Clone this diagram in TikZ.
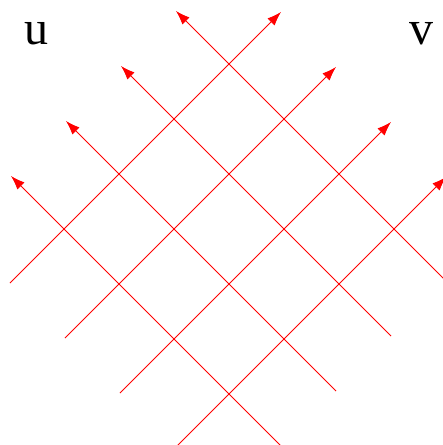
\documentclass[tikz,border=0pt]{standalone}
\usepackage{fontspec}
\setmainfont{Liberation Serif}
\usetikzlibrary{arrows.meta}
\begin{document}
\begin{tikzpicture}[x=1pt,y=-1pt,
  gridline/.style={draw=red,line width=0.8pt,-{Latex[length=14pt,width=10pt]}},
  lbl/.style={inner sep=0pt,font=\fontsize{48}{48}\selectfont}]
\useasboundingbox (0,0) rectangle (443,445);
\clip (0,0) rectangle (443,445);
% up-right lines
\foreach \k in {0,1,2,3}{
  \coordinate (r\k s) at ({10+55*\k},{283+55*\k});
  \coordinate (r\k e) at ({281+55*\k},{12+55*\k});
  \draw[gridline] (r\k s) -- (r\k e);
}
% up-left lines
\foreach \k in {0,1,2,3}{
  \coordinate (l\k s) at ({281+55*\k},{446-55*\k});
  \coordinate (l\k e) at ({11+55*\k},{176-55*\k});
  \draw[gridline] (l\k s) -- (l\k e);
}
\node[lbl] (u) at (36,34) {u};
\node[lbl] (v) at (421,34) {v};
\end{tikzpicture}
\end{document}
